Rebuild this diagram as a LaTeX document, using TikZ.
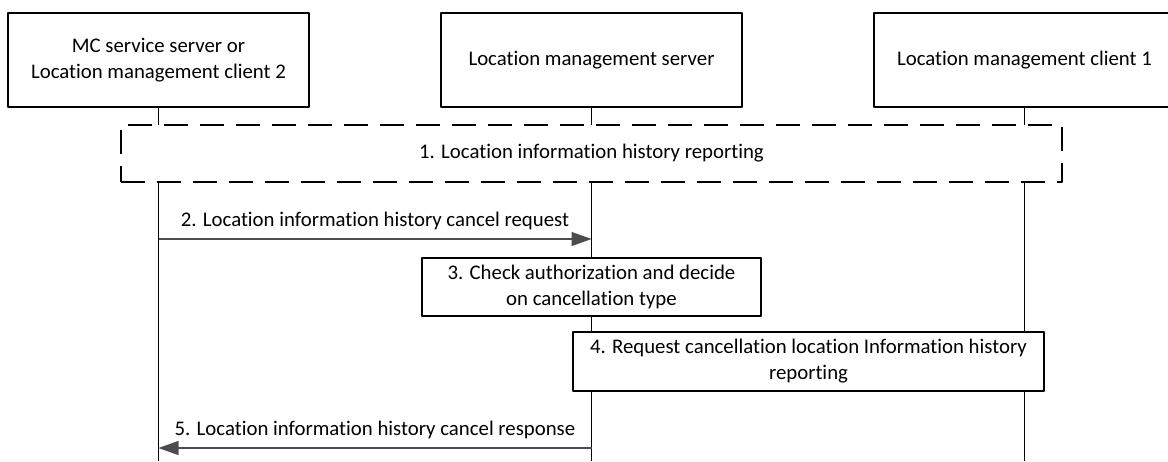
\documentclass[tikz,border=0pt]{standalone}
\usepackage{fontspec}
\setmainfont{Carlito}[Ligatures=NoCommon]
\usetikzlibrary{arrows.meta}
\tikzset{
  entity/.style={draw, fill=white, line width=0.6pt, align=center, minimum width=150.5pt, minimum height=47pt, inner sep=0pt},
  stepbox/.style={draw, fill=white, line width=0.6pt, align=center, inner sep=0pt},
  groupbox/.style={draw, fill=white, line width=0.6pt, dash pattern=on 12pt off 6pt, inner sep=0pt},
  lifeline/.style={line width=0.5pt},
  msg/.style={draw=black!70, line width=0.6pt, -{Triangle[length=10pt, width=7pt]}},
}
\begin{document}
\begin{tikzpicture}[x=0.5pt, y=-0.5pt, font=\fontsize{10.4}{13}\selectfont, line join=round]
\useasboundingbox (0,0) rectangle (1168,461);
\clip (0,0) rectangle (1168,461);
% entities
\node[entity] (mcs) at (158.5,60) {MC service server or\\Location management client 2};
\node[entity] (lms) at (591.5,60) {Location management server};
\node[entity] (lmc) at (1024.5,60) {Location management client 1};
% lifelines
\path
(mcs.south |- 0,461) coordinate (mcsEnd)
(lms.south |- 0,461) coordinate (lmsEnd)
(lmc.south |- 0,461) coordinate (lmcEnd);
\draw[lifeline] (mcs.south)--(mcsEnd) (lms.south)--(lmsEnd) (lmc.south)--(lmcEnd);
% steps
\node[groupbox, minimum width=470.5pt, minimum height=28.5pt] (hist) at (591.5,153.5) {1. Location information history reporting};
\path
(mcs.south |- 0,239) coordinate (reqA)
(lms.south |- 0,239) coordinate (reqB)
(mcs.south |- 0,448) coordinate (rspA)
(lms.south |- 0,448) coordinate (rspB);
\draw[msg] (reqA)--node[above, text=black, yshift=1pt]{2. Location information history cancel request}(reqB);
\node[stepbox, minimum width=169.5pt, minimum height=29pt] (check) at (591.5,287) {3. Check authorization and decide\\on cancellation type};
\node[stepbox, minimum width=235.5pt, minimum height=29.5pt] (cancel) at (808.5,361.5) {4. Request cancellation location Information history\\reporting};
\draw[msg] (rspB)--node[above, text=black, yshift=1pt]{5. Location information history cancel response}(rspA);
\end{tikzpicture}
\end{document}
